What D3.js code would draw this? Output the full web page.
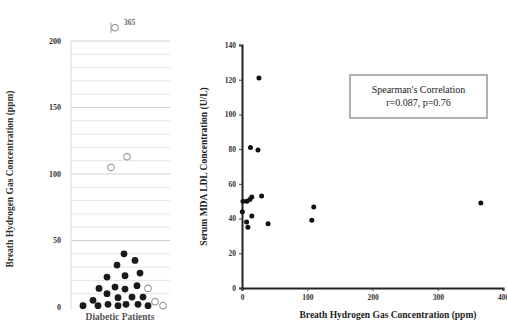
<!DOCTYPE html>
<html><head><meta charset="utf-8">
<script src="https://cdn.jsdelivr.net/npm/d3@7"></script>
<style>body{margin:0;background:#fff}svg{display:block}</style>
</head><body>
<script>
// ---- Left panel data (breath H2, ppm) ----
const diabeticValues = [40,35,31.5, 22.5,23.5,25.5, 14,15,13.5,16, 5,10,7,7.5,7.5, 1,1,2,1,2,2,1];
const diabeticJitter = [4,15,-3, -13,5,20, -21,-5,5,17, -27,-13,-2,12,23, -37,-22,-12,-2,6,18,28];
const openValues = [105,113,14,4,1,365];
const openJitter = [-9,7,28,35,43,-5];
const leftTicks = [0,50,100,150,200];
const leftCategory = "Diabetic Patients";
// ---- Right panel data ----
const h2ppm = [26,13,24.5,1.5,7.5,12,15,30,0.5,15,7,9,40,110,107,366];
const mdaLdl = [121,81,79.5,50,50,51,52.5,53,44,41.5,38,35,37,46.7,39,49];
const rightYTicks = [0,20,40,60,80,100,120,140];
const rightXTicks = [0,100,200,300,400];
const statsLines = ["Spearman's Correlation","r=0.087, p=0.76"];

const W=507,H=323;
const svg=d3.select("body").append("svg").attr("width",W).attr("height",H);
const serif="Liberation Serif, Times New Roman, serif";

// ---------- Left panel ----------
const yL=d3.scaleLinear().domain([0,200]).range([307,41]);
const xL=d3.scaleLinear().domain([-50,50]).range([70,170]);
const gL=svg.append("g");
gL.selectAll("line.grid").data(d3.range(10,201,10)).join("line")
  .attr("x1",71).attr("x2",170).attr("y1",d=>yL(d)).attr("y2",d=>yL(d))
  .attr("stroke",d=>d%50===0?"#cfcfcf":"#e6e6e6").attr("stroke-width",1);
gL.append("line").attr("x1",71).attr("x2",71).attr("y1",yL(200)).attr("y2",yL(0)+2)
  .attr("stroke","#d8d8d8");
gL.selectAll("text.tk").data(leftTicks).join("text")
  .attr("x",61).attr("y",d=>yL(d)).attr("dy","0.35em").attr("text-anchor","end")
  .attr("font-family",serif).attr("font-size",8).attr("font-weight","bold").attr("fill","#333")
  .text(d=>d);
gL.append("text").attr("transform",`translate(13,${(yL(0)+yL(200))/2+5}) rotate(-90)`)
  .attr("text-anchor","middle").attr("font-family",serif).attr("font-size",9.5)
  .attr("font-weight","bold").attr("fill","#333")
  .text("Breath Hydrogen Gas Concentration (ppm)");
gL.append("text").attr("x",120).attr("y",320).attr("text-anchor","middle")
  .attr("font-family",serif).attr("font-size",9.5).attr("font-weight","bold").attr("fill","#555")
  .text(leftCategory);
const cap=v=>v>200?210:v;
const topIdx=openValues.indexOf(365);
gL.selectAll("circle.open").data(openValues).join("circle")
  .attr("cx",(d,i)=>xL(openJitter[i])).attr("cy",d=>yL(cap(d))).attr("r",3.4)
  .attr("fill","#fff").attr("stroke","#888").attr("stroke-width",1);
gL.selectAll("text.brk").data(openValues.filter(v=>v>200)).join("text")
  .attr("x",xL(openJitter[topIdx])+9).attr("y",d=>yL(cap(d))-3)
  .attr("font-family",serif).attr("font-size",7.5).attr("font-weight","bold").attr("fill","#666")
  .text(d=>d);
gL.selectAll("line.brk").data(openValues.filter(v=>v>200)).join("line")
  .attr("x1",xL(openJitter[topIdx])-4).attr("x2",xL(openJitter[topIdx])-4)
  .attr("y1",d=>yL(cap(d))-5).attr("y2",d=>yL(cap(d))+5).attr("stroke","#999");
gL.selectAll("circle.dm").data(diabeticValues).join("circle")
  .attr("cx",(d,i)=>xL(diabeticJitter[i])).attr("cy",d=>yL(d)).attr("r",3.4)
  .attr("fill","#1a1a1a");

// ---------- Right panel ----------
const xR=d3.scaleLinear().domain([0,400]).range([242,503]);
const yR=d3.scaleLinear().domain([0,140]).range([288,45]);
const gR=svg.append("g");
const yAx=gR.append("g").attr("transform","translate(242,0)")
  .call(d3.axisLeft(yR).tickValues(rightYTicks).tickSize(3).tickPadding(3));
const xAx=gR.append("g").attr("transform","translate(0,288)")
  .call(d3.axisBottom(xR).tickValues(rightXTicks).tickSize(3).tickPadding(4));
[yAx,xAx].forEach(a=>{
  a.select(".domain").attr("stroke","#222").attr("stroke-width",2);
  a.selectAll(".tick line").attr("stroke","#444");
  a.selectAll("text").attr("font-family",serif).attr("font-size",7.5).attr("font-weight","bold").attr("fill","#333");
});
gR.append("text").attr("transform",`translate(207,${(yR(0)+yR(140))/2}) rotate(-90)`)
  .attr("text-anchor","middle").attr("font-family",serif).attr("font-size",9.5)
  .attr("font-weight","bold").attr("fill","#222")
  .text("Serum MDA LDL Concentration (U/L)");
gR.append("text").attr("x",388).attr("y",318).attr("text-anchor","middle")
  .attr("font-family",serif).attr("font-size",9.5).attr("font-weight","bold").attr("fill","#222")
  .text("Breath Hydrogen Gas Concentration (ppm)");
gR.selectAll("circle.pt").data(h2ppm).join("circle")
  .attr("cx",d=>xR(d)).attr("cy",(d,i)=>yR(mdaLdl[i])).attr("r",2.5).attr("fill","#111");
gR.append("rect").attr("x",350).attr("y",75).attr("width",137).attr("height",43)
  .attr("fill","#fff").attr("stroke","#999").attr("stroke-width",1.5);
gR.selectAll("text.st").data(statsLines).join("text")
  .attr("x",418.5).attr("y",(d,i)=>93+i*13).attr("text-anchor","middle")
  .attr("font-family",serif).attr("font-size",10).attr("fill","#222").text(d=>d);
</script>
</body></html>
